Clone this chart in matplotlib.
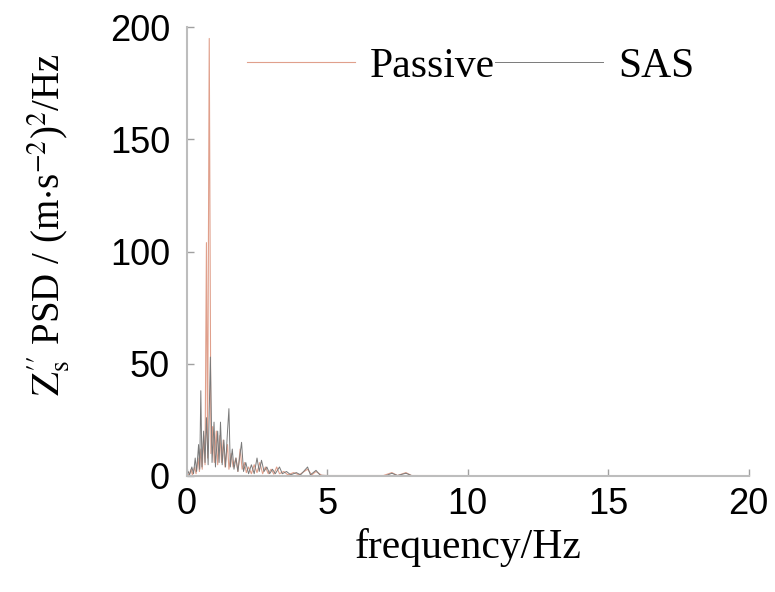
import matplotlib
matplotlib.use("Agg")
import matplotlib.pyplot as plt

# Passive suspension PSD
passive_f = [0.0, 0.1, 0.15, 0.2, 0.28, 0.33, 0.4, 0.45, 0.5, 0.55, 0.6, 0.65,
             0.70, 0.74, 0.80, 0.86, 0.92, 0.98, 1.05, 1.1, 1.18, 1.24, 1.3, 1.36,
             1.45, 1.5, 1.58, 1.65, 1.75, 1.82, 1.9, 1.97, 2.05, 2.12, 2.2, 2.3,
             2.4, 2.5, 2.6, 2.7, 2.8, 2.9, 3.0, 3.1, 3.2, 3.3, 3.45, 3.6, 3.8, 4.0,
             4.3, 4.45, 4.6, 4.8, 5.0, 7.0, 7.3, 7.5, 7.8, 8.0, 20.0]
passive_v = [0, 1, 3, 0.5, 4, 1, 8, 2, 12, 3, 18, 5,
             104, 8, 195, 10, 22, 6, 20, 5, 18, 6, 16, 4,
             14, 3, 10, 4, 8, 2, 12, 3, 6, 1.5, 4, 1,
             5, 1.5, 6, 1, 4, 1, 3, 0.8, 4, 1, 2, 0.5, 1.5, 0.5,
             3, 0.5, 2, 0.3, 0.2, 0.2, 1.5, 0.2, 1.5, 0.2, 0.1]

# SAS suspension PSD
sas_f = [0.0, 0.05, 0.1, 0.18, 0.24, 0.3, 0.35, 0.42, 0.46, 0.5, 0.54, 0.6,
         0.65, 0.70, 0.76, 0.84, 0.9, 0.97, 1.02, 1.1, 1.15, 1.2, 1.26, 1.32,
         1.38, 1.45, 1.5, 1.55, 1.62, 1.68, 1.75, 1.82, 1.95, 2.02, 2.1, 2.2,
         2.3, 2.4, 2.5, 2.58, 2.66, 2.75, 2.85, 2.95, 3.05, 3.15, 3.3, 3.4,
         3.55, 3.7, 3.9, 4.05, 4.3, 4.4, 4.6, 4.75, 5.0, 7.1, 7.3, 7.5, 7.8,
         8.0, 20.0]
sas_v = [0, 2, 0.5, 4, 1, 8, 2, 14, 3, 38, 4, 20,
         6, 26, 5, 53, 6, 24, 4, 20, 6, 24, 5, 16,
         4, 20, 30, 4, 12, 3, 8, 2, 15, 2, 6, 1,
         5, 1, 8, 2, 7, 2, 4, 1, 3, 1, 4, 1,
         2, 0.5, 1.5, 0.5, 4, 0.5, 2.5, 0.3, 0.2, 0.2, 1.2, 0.2, 1.2,
         0.2, 0.1]

x_ticks = [0, 5, 10, 15, 20]
y_ticks = [0, 50, 100, 150, 200]

plt.rcParams['mathtext.fontset'] = 'stix'

fig = plt.figure(figsize=(7.75, 5.92), dpi=100)
ax = fig.add_axes([0.241, 0.196, 0.725, 0.758])

ax.plot(passive_f, passive_v, color='#e0a08c', lw=0.8, label='Passive')
ax.plot(sas_f, sas_v, color='#7a7a7a', lw=0.7, label='SAS')

ax.set_xlim(0, 20)
ax.set_ylim(0, 200)
ax.set_xticks(x_ticks)
ax.set_yticks(y_ticks)

for side in ['top', 'right']:
    ax.spines[side].set_visible(False)
for side in ['left', 'bottom']:
    ax.spines[side].set_color('#bdbdbd')
    ax.spines[side].set_linewidth(1.5)

ax.tick_params(direction='in', length=5, width=1, color='#a0a0a0',
               labelsize=26, pad=12)
ax.tick_params(axis='x', pad=8)
for lab in ax.get_xticklabels() + ax.get_yticklabels():
    lab.set_fontfamily('Liberation Sans')

ax.set_xlabel('frequency/Hz', family='Liberation Serif', fontsize=30, labelpad=4)
ax.set_ylabel(r'$\mathrm{Z}_{\mathrm{s}}^{\prime\prime}$ PSD / (m$\cdot$s$^{-2}$)$^2$/Hz',
              family='Liberation Serif', fontsize=28)
ax.yaxis.set_label_coords(-0.205, 0.56)

leg = ax.legend(loc='center left', bbox_to_anchor=(0.107, 0.912), ncol=2,
                frameon=False, handlelength=2.6, columnspacing=0.0,
                handletextpad=0.35, borderpad=0, borderaxespad=0,
                prop={'family': 'Liberation Serif', 'size': 30})

fig.savefig('out.png', dpi=100)
